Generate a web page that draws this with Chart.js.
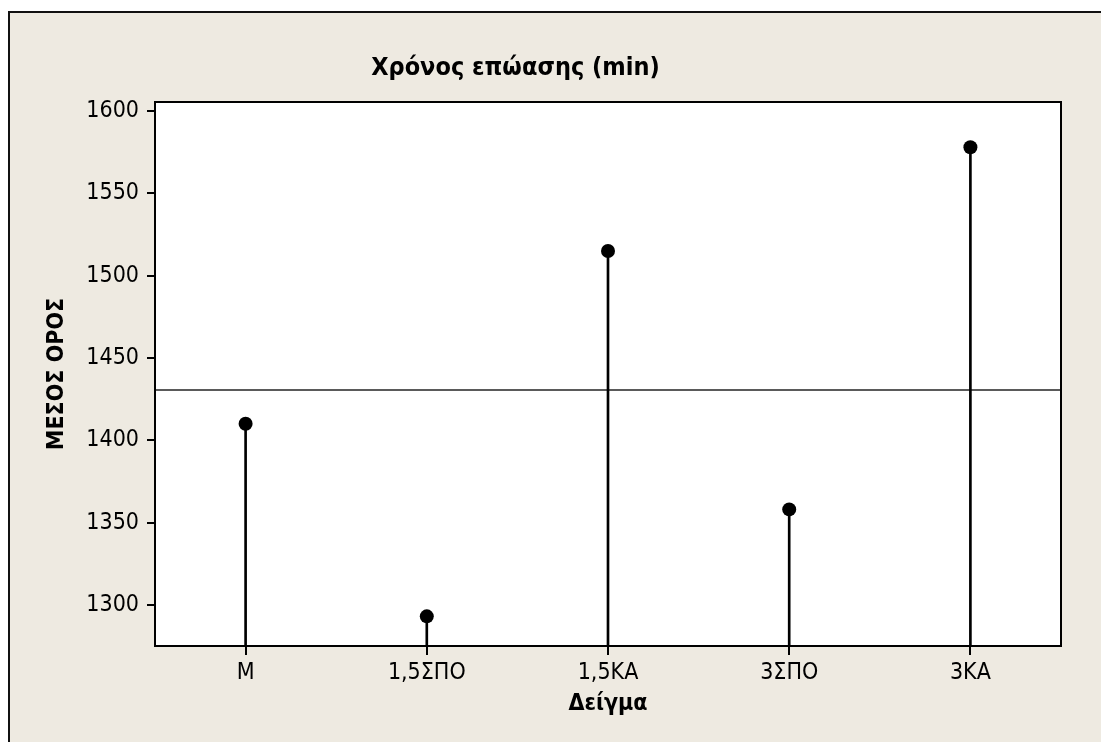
<!DOCTYPE html>
<html>
<head>
<meta charset="utf-8">
<script src="https://cdn.jsdelivr.net/npm/chart.js@4"></script>
<style>
  html, body { margin: 0; padding: 0; background: #ffffff; }
  #wrap { width: 1101px; height: 742px; }
</style>
</head>
<body>
<div id="wrap"><canvas id="chart" width="1101" height="742"></canvas></div>
<script>
// data
const samples = ['Μ', '1,5ΣΠΟ', '1,5ΚΑ', '3ΣΠΟ', '3ΚΑ'];
const meanValues = [1410, 1293, 1515, 1358, 1578];
const overallMean = 1430.5;
const yTicks = [1300, 1350, 1400, 1450, 1500, 1550, 1600];

const family = '"DejaVu Sans Condensed", "DejaVu Sans", sans-serif';
const tickFont = { family: family, size: 23 };
const boldFont = { family: family, size: 23, weight: 'bold' };

// page background + frame + white plot area
const frame = {
  id: 'frame',
  beforeDraw(chart) {
    const c = chart.ctx;
    const a = chart.chartArea;
    c.save();
    c.fillStyle = '#ffffff';
    c.fillRect(0, 0, chart.width, chart.height);
    c.fillStyle = '#eeeae1';
    c.fillRect(10, 13, chart.width - 10, chart.height - 13);
    c.fillStyle = '#111111';
    c.fillRect(8, 11, chart.width - 8, 2);
    c.fillRect(8, 11, 2, chart.height - 11);
    c.fillStyle = '#ffffff';
    c.fillRect(a.left, a.top, a.right - a.left, a.bottom - a.top);
    c.restore();
  },
  afterDatasetsDraw(chart) {
    const c = chart.ctx;
    const a = chart.chartArea;
    c.save();
    c.strokeStyle = '#000000';
    c.lineWidth = 2;
    c.strokeRect(a.left, a.top, a.right - a.left, a.bottom - a.top);
    c.restore();
  }
};

// horizontal line at the overall mean
const meanLine = {
  id: 'meanLine',
  beforeDatasetsDraw(chart) {
    const c = chart.ctx;
    const a = chart.chartArea;
    const y = chart.scales.y.getPixelForValue(overallMean);
    c.save();
    c.strokeStyle = '#5a5a5a';
    c.lineWidth = 2;
    c.beginPath();
    c.moveTo(a.left, y);
    c.lineTo(a.right, y);
    c.stroke();
    c.restore();
  }
};

new Chart(document.getElementById('chart'), {
  data: {
    labels: samples,
    datasets: [
      {
        type: 'line',
        data: meanValues,
        showLine: false,
        pointRadius: 7,
        pointHoverRadius: 7,
        pointBackgroundColor: '#000000',
        pointBorderColor: '#000000',
        pointBorderWidth: 0
      },
      {
        type: 'bar',
        data: meanValues,
        backgroundColor: '#000000',
        barThickness: 2
      }
    ]
  },
  options: {
    responsive: false,
    animation: false,
    events: [],
    // negative left padding moves the centred title left, as in the reference
    layout: { padding: { left: -30, top: 0, right: 40, bottom: 0 } },
    plugins: {
      legend: { display: false },
      tooltip: { enabled: false },
      title: {
        display: true,
        text: 'Χρόνος επώασης (min)',
        color: '#000000',
        font: { family: family, size: 25, weight: 'bold', lineHeight: 1.2 },
        padding: { top: 53, bottom: 19 }
      }
    },
    scales: {
      x: {
        offset: true,
        afterFit(scale) { scale.height = 96; },
        grid: {
          display: true, offset: false, drawOnChartArea: false, drawTicks: true,
          tickLength: 9, color: '#000000', lineWidth: 2, tickColor: '#000000', tickWidth: 2
        },
        border: { display: true, color: '#000000', width: 2 },
        ticks: { color: '#000000', font: tickFont, padding: 4, maxRotation: 0 },
        title: { display: true, text: 'Δείγμα', color: '#000000', font: boldFont, padding: { top: 0, bottom: 24 } }
      },
      y: {
        min: 1275,
        max: 1605.5,
        afterFit(scale) { scale.width = 185; },
        afterBuildTicks(scale) { scale.ticks = yTicks.map(v => ({ value: v })); },
        grid: {
          display: true, drawOnChartArea: false, drawTicks: true,
          tickLength: 8, color: '#000000', lineWidth: 2, tickColor: '#000000', tickWidth: 2
        },
        border: { display: true, color: '#000000', width: 2 },
        ticks: {
          color: '#000000', font: tickFont, padding: 8, includeBounds: false,
          callback: v => String(v)
        },
        title: { display: true, text: 'ΜΕΣΟΣ ΟΡΟΣ', color: '#000000', font: boldFont, padding: { top: 73, bottom: 0 } }
      }
    }
  },
  plugins: [frame, meanLine]
});
</script>
</body>
</html>
